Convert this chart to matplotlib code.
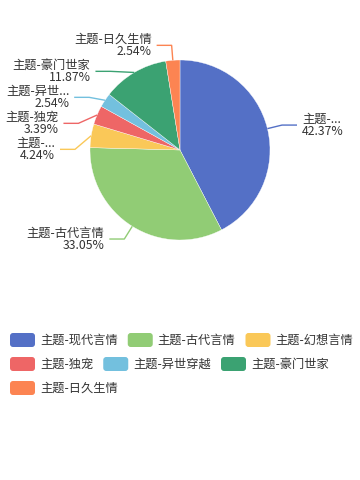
import math
import matplotlib
matplotlib.use("Agg")
import matplotlib.pyplot as plt
from matplotlib.patches import FancyBboxPatch

plt.rcParams['font.family'] = ['Noto Sans CJK SC', 'DejaVu Sans']

# data
names = ["主题-现代言情", "主题-古代言情", "主题-幻想言情", "主题-独宠",
         "主题-异世穿越", "主题-豪门世家", "主题-日久生情"]
label_names = ["主题-...", "主题-古代言情", "主题-...", "主题-独宠",
               "主题-异世...", "主题-豪门世家", "主题-日久生情"]
percents = [42.37, 33.05, 4.24, 3.39, 2.54, 11.87, 2.54]
colors = ["#5470c6", "#91cc75", "#fac858", "#ee6666", "#73c0de", "#3ba272", "#fc8452"]

W, H = 360, 480
cx, cy, R = 180, 150, 90
text_color = "#333333"
fs = 8.8  # ~12px

fig = plt.figure(figsize=(W / 100, H / 100), dpi=100)

# pie
ax = fig.add_axes([(cx - R) / W, (H - cy - R) / H, 2 * R / W, 2 * R / H])
wedges, _ = ax.pie(percents, colors=colors, startangle=90, counterclock=False,
                   radius=1, wedgeprops=dict(edgecolor="white", linewidth=0.25))
ax.set_xlim(-1, 1)
ax.set_ylim(-1, 1)
ax.axis("off")

# overlay in pixel coords
ov = fig.add_axes([0, 0, 1, 1])
ov.set_xlim(0, W)
ov.set_ylim(H, 0)
ov.axis("off")

len1, len2, gap, spacing = 15, 15, 5, 26
labels = []
for i, w in enumerate(wedges):
    mid = math.radians((w.theta1 + w.theta2) / 2)
    ex, ey = cx + R * math.cos(mid), cy - R * math.sin(mid)
    bx, by = cx + (R + len1) * math.cos(mid), cy - (R + len1) * math.sin(mid)
    labels.append(dict(i=i, ex=ex, ey=ey, bx=bx, by=by, right=bx >= cx))

# push overlapping labels apart on each side
for side in (True, False):
    group = sorted([l for l in labels if l["right"] == side], key=lambda l: l["by"])
    prev = None
    for l in group:
        if prev is not None and l["by"] < prev + spacing:
            l["by"] = prev + spacing
            dy = l["by"] - cy
            if abs(dy) < R + len1:
                dx = math.sqrt((R + len1) ** 2 - dy ** 2)
                l["bx"] = cx + dx if side else cx - dx
        prev = l["by"]

for l in labels:
    i = l["i"]
    sgn = 1 if l["right"] else -1
    tx = l["bx"] + sgn * len2
    ov.plot([l["ex"], l["bx"], tx], [l["ey"], l["by"], l["by"]],
            color=colors[i], lw=1, solid_capstyle="butt")
    ov.text(tx + sgn * gap, l["by"], f"{label_names[i]}\n{percents[i]:.2f}%",
            ha="left" if l["right"] else "right", va="center",
            multialignment="left" if l["right"] else "right",
            fontsize=fs, color=text_color, linespacing=0.95)

# legend (flow layout)
renderer = fig.canvas.get_renderer()
x0, x, y = 10, 10, 340
item_w, item_h, item_gap, pad = 25, 14, 10, 5
for name, c in zip(names, colors):
    t = ov.text(0, 0, name, fontsize=fs, color=text_color, va="center", ha="left")
    tw = t.get_window_extent(renderer).width
    full = item_w + pad + tw
    if x + full > W and x > x0:
        x = x0
        y += item_h + 10
    ov.add_patch(FancyBboxPatch((x, y - item_h / 2), item_w, item_h,
                                boxstyle="round,pad=0,rounding_size=3",
                                fc=c, ec="none"))
    t.set_position((x + item_w + pad, y))
    x += full + item_gap

fig.savefig("out.png", dpi=100)
